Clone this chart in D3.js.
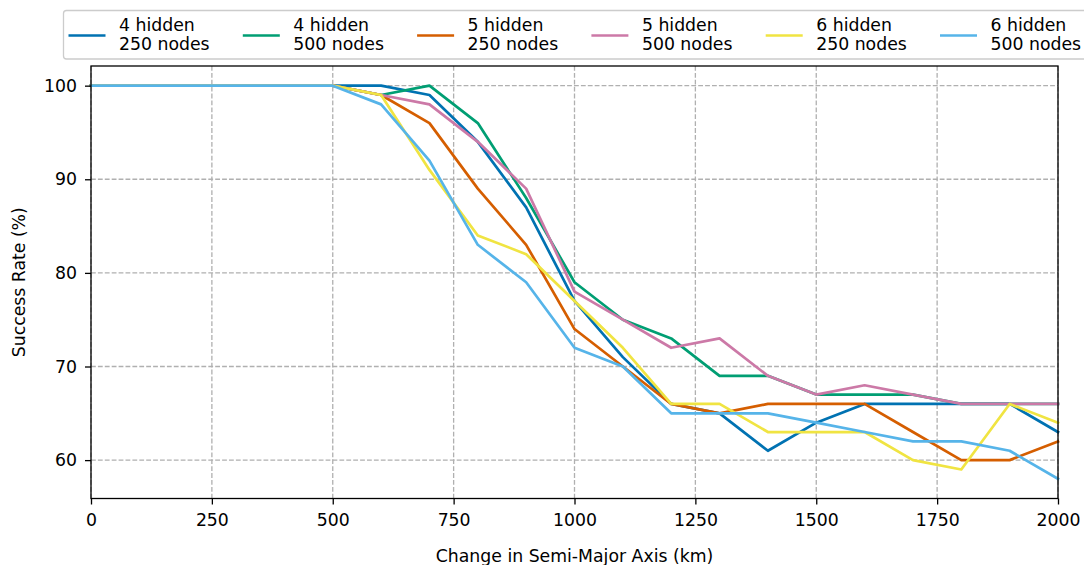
<!DOCTYPE html>
<html>
<head>
<meta charset="utf-8">
<script src="https://cdn.jsdelivr.net/npm/d3@7"></script>
<style>
  html, body { margin: 0; padding: 0; background: #fff; }
  svg { display: block; font-family: "DejaVu Sans", sans-serif; }
</style>
</head>
<body>
<svg id="chart" width="1084" height="565"></svg>
<script>
// ---- data ----
const xValues = [0,100,200,300,400,500,600,700,800,900,1000,1100,1200,1300,1400,1500,1600,1700,1800,1900,2000];
const h4n250 = [100,100,100,100,100,100,100,99,94,87,77,71,66,65,61,64,66,66,66,66,63];
const h4n500 = [100,100,100,100,100,100,99,100,96,88,79,75,73,69,69,67,67,67,66,66,66];
const h5n250 = [100,100,100,100,100,100,99,96,89,83,74,70,66,65,66,66,66,63,60,60,62];
const h5n500 = [100,100,100,100,100,100,99,98,94,89,78,75,72,73,69,67,68,67,66,66,66];
const h6n250 = [100,100,100,100,100,100,99,91,84,82,77,72,66,66,63,63,63,60,59,66,64];
const h6n500 = [100,100,100,100,100,100,98,92,83,79,72,70,65,65,65,64,63,62,62,61,58];
const seriesNames = [["4 hidden","250 nodes"],["4 hidden","500 nodes"],["5 hidden","250 nodes"],["5 hidden","500 nodes"],["6 hidden","250 nodes"],["6 hidden","500 nodes"]];
const seriesColors = ["#0072B2","#009E73","#D55E00","#CC79A7","#F0E442","#56B4E9"];
const xTicks = [0,250,500,750,1000,1250,1500,1750,2000];
const yTicks = [60,70,80,90,100];
const xLabel = "Change in Semi-Major Axis (km)";
const yLabel = "Success Rate (%)";

const allSeries = [h4n250,h4n500,h5n250,h5n500,h6n250,h6n500];

// ---- layout ----
const pLeft = 91, pRight = 1058, pTop = 66, pBottom = 498.5;
const fontSize = 17.3;

const svg = d3.select("#chart");
const x = d3.scaleLinear().domain([0,2000]).range([pLeft,pRight]);
const y = d3.scaleLinear().domain([55.9,102.1]).range([pBottom,pTop]);

// grid
const grid = svg.append("g");
grid.selectAll("line.vx").data(xTicks).enter().append("line")
  .attr("x1", d => x(d)).attr("x2", d => x(d)).attr("y1", pTop).attr("y2", pBottom)
  .attr("stroke", "#b0b0b0").attr("stroke-width", 1.3).attr("stroke-dasharray", "4.8,2.1");
grid.selectAll("line.hy").data(yTicks).enter().append("line")
  .attr("x1", pLeft).attr("x2", pRight).attr("y1", d => y(d)).attr("y2", d => y(d))
  .attr("stroke", "#b0b0b0").attr("stroke-width", 1.3).attr("stroke-dasharray", "4.8,2.1");

// lines
const line = d3.line().x((d,i) => x(xValues[i])).y(d => y(d));
allSeries.forEach((s, i) => {
  svg.append("path").datum(s)
    .attr("d", line)
    .attr("fill", "none")
    .attr("stroke", seriesColors[i])
    .attr("stroke-width", 2.7)
    .attr("stroke-linejoin", "round")
    .attr("stroke-linecap", "square");
});

// axes
const xAxis = d3.axisBottom(x).tickValues(xTicks).tickSize(6).tickPadding(9.5).tickFormat(d3.format("d"));
const yAxis = d3.axisLeft(y).tickValues(yTicks).tickSize(6).tickPadding(8).tickFormat(d3.format("d"));
const gx = svg.append("g").attr("transform", `translate(0,${pBottom})`).call(xAxis);
const gy = svg.append("g").attr("transform", `translate(${pLeft},0)`).call(yAxis);
[gx, gy].forEach(g => {
  g.select(".domain").remove();
  g.selectAll(".tick line").attr("stroke", "#000").attr("stroke-width", 1.3);
  g.selectAll(".tick text").attr("fill", "#000").style("font-size", fontSize + "px").style("font-family", "DejaVu Sans");
});

// frame
svg.append("rect").attr("x", pLeft).attr("y", pTop).attr("width", pRight - pLeft).attr("height", pBottom - pTop)
  .attr("fill", "none").attr("stroke", "#000").attr("stroke-width", 1.3);

// axis labels
svg.append("text").attr("x", (pLeft + pRight) / 2).attr("y", 561.5).attr("text-anchor", "middle")
  .style("font-size", fontSize + "px").text(xLabel);
svg.append("text").attr("transform", `translate(25,${(pTop + pBottom) / 2}) rotate(-90)`).attr("text-anchor", "middle")
  .style("font-size", fontSize + "px").text(yLabel);

// legend
const lg = svg.append("g");
lg.append("rect").attr("x", 63.5).attr("y", 10.5).attr("width", 1040).attr("height", 48.5).attr("rx", 3)
  .attr("fill", "#fff").attr("fill-opacity", 0.8).attr("stroke", "#cccccc").attr("stroke-width", 1.3);
const colW = 174.3;
seriesNames.forEach((nm, i) => {
  const x0 = 68.5 + i * colW;
  lg.append("line").attr("x1", x0).attr("x2", x0 + 37).attr("y1", 35.5).attr("y2", 35.5)
    .attr("stroke", seriesColors[i]).attr("stroke-width", 2.7);
  const t = lg.append("text").attr("x", x0 + 50.5).attr("y", 30.5).style("font-size", fontSize + "px");
  t.append("tspan").attr("x", x0 + 50.5).attr("y", 30.5).text(nm[0]);
  t.append("tspan").attr("x", x0 + 50.5).attr("y", 50.2).text(nm[1]);
});
</script>
</body>
</html>
